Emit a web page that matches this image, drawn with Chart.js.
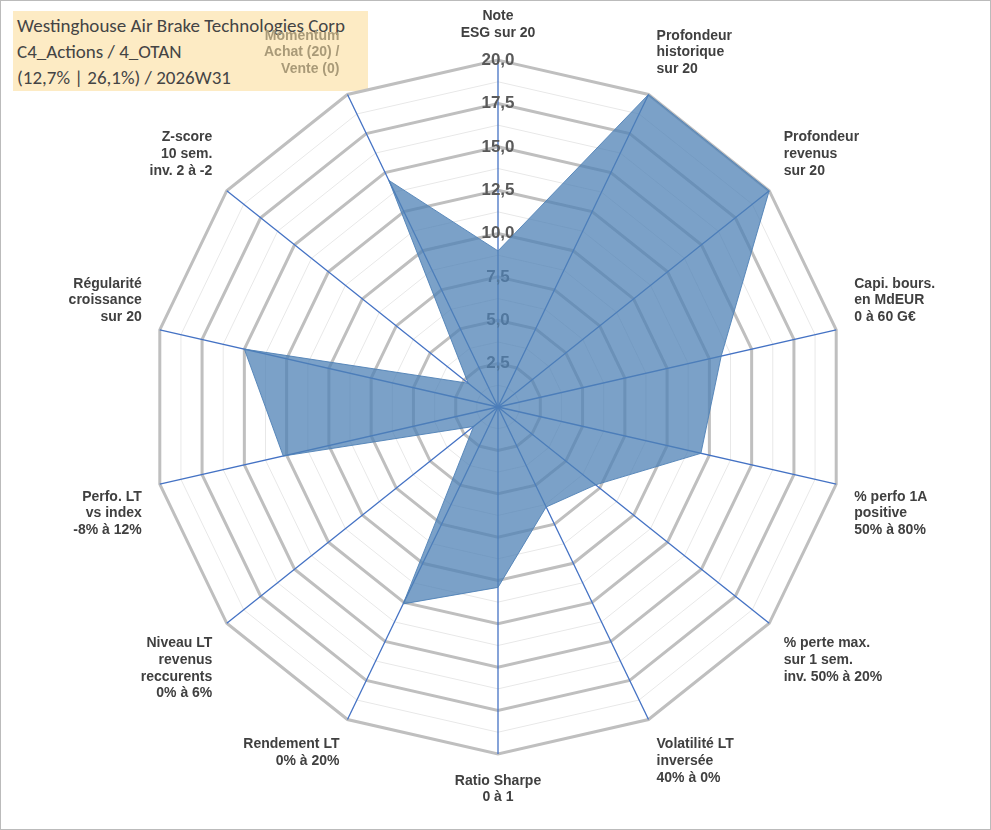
<!DOCTYPE html>
<html><head><meta charset="utf-8">
<script src="https://cdn.jsdelivr.net/npm/chart.js@4"></script>
<style>
body{margin:0;background:#fff;}
#wrap{position:absolute;left:0;top:0;width:989px;height:828px;border:1px solid #bbb;z-index:2;}
#title{position:absolute;left:13px;top:11px;width:355px;height:80px;background:#fdebc4;font-family:Carlito,Calibri,"Liberation Sans",sans-serif;font-size:19px;color:#444;line-height:26px;padding-left:4px;padding-top:2px;box-sizing:border-box;z-index:1;}
</style></head><body>
<div id="title">Westinghouse Air Brake Technologies Corp<br>C4_Actions / 4_OTAN<br>(12,7% | 26,1%) / 2026W31</div>
<div id="wrap"><canvas id="c" width="989" height="828"></canvas></div>
<script>
const categories=[["Note","ESG sur 20"],["Profondeur","historique","sur 20"],["Profondeur","revenus","sur 20"],["Capi. bours.","en MdEUR","0 à 60 G€"],["% perfo 1A","positive","50% à 80%"],["% perte max.","sur 1 sem.","inv. 50% à 20%"],["Volatilité LT","inversée","40% à 0%"],["Ratio Sharpe","0 à 1"],["Rendement LT","0% à 20%"],["Niveau LT","revenus","reccurents","0% à 6%"],["Perfo. LT","vs index","-8% à 12%"],["Régularité","croissance","sur 20"],["Z-score","10 sem.","inv. 2 à -2"],["Momentum","Achat (20) /","Vente (0)"]];
const values=[9.0,20,20,13.2,12.0,7.2,6.4,10.4,12.6,1.8,12.7,15.0,2.2,14.5];
new Chart(document.getElementById('c'),{
type:'radar',
data:{labels:categories,datasets:[{data:values,backgroundColor:'rgba(79,129,182,0.75)',borderColor:'rgba(79,129,182,0.9)',borderWidth:1,pointRadius:0}]},
options:{responsive:false,animation:false,
layout:{padding:{top:8,bottom:22,left:12,right:6}},
plugins:{legend:{display:false},tooltip:{enabled:false}},
scales:{r:{min:0,max:20,
ticks:{stepSize:1.25,backdropColor:'rgba(0,0,0,0)',color:'#595959',font:{size:17,weight:'bold',family:'Liberation Sans'},
callback:(v)=> (Math.abs(v/2.5-Math.round(v/2.5))<1e-6)? v.toFixed(1).replace('.',','):''},
grid:{color:(ctx)=>ctx.index%2===0?'#bfbfbf':'#e8e8e8',lineWidth:(ctx)=>ctx.index%2===0?3:1},
angleLines:{color:'#4472c4',lineWidth:1.3},
pointLabels:{font:{size:14,weight:'bold',family:'Liberation Sans'},padding:8,
color:(ctx)=>ctx.index===13?'#a99a78':'#404040'}
}}}
});
</script></body></html>
